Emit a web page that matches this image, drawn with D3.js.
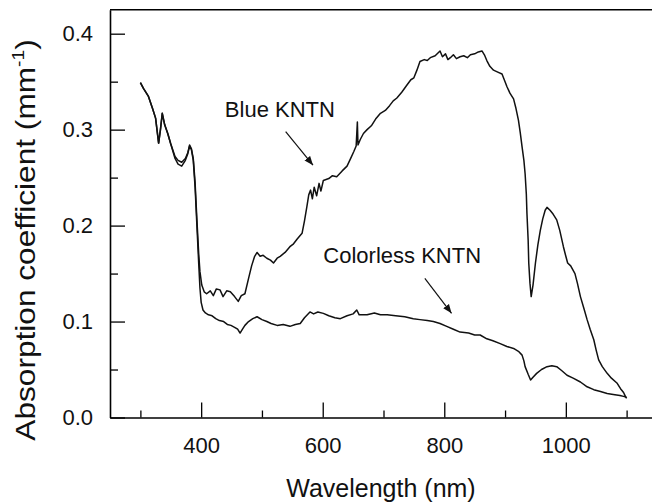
<!DOCTYPE html>
<html>
<head>
<meta charset="utf-8">
<script src="https://cdn.jsdelivr.net/npm/d3@7"></script>
<style>
  html, body { margin: 0; padding: 0; background: #fff; }
  svg { display: block; font-family: "Liberation Sans", Arial, sans-serif; }
  .tick text { font-size: 22px; fill: #111; }
</style>
</head>
<body>
<svg id="chart" width="652" height="504"></svg>
<script>
// wavelength (nm), absorption coefficient (mm^-1)
const blueKntn = [
  [300, 0.349], [305, 0.343], [313, 0.335], [320, 0.322], [325, 0.312], [330, 0.286], [333, 0.300],
  [336, 0.317], [340, 0.305], [345, 0.296], [350, 0.285], [357, 0.272], [362, 0.268], [368, 0.266],
  [374, 0.270], [378, 0.276], [381, 0.284], [384, 0.280], [387, 0.270], [390, 0.245], [393, 0.206],
  [396, 0.170], [398, 0.152], [401, 0.138], [405, 0.131], [409, 0.129], [415, 0.132], [420, 0.127],
  [425, 0.134], [431, 0.133], [436, 0.126], [442, 0.132], [448, 0.131], [455, 0.126], [461, 0.121],
  [466, 0.127], [472, 0.129], [478, 0.145], [483, 0.158], [488, 0.168], [492, 0.172], [497, 0.168],
  [502, 0.169], [508, 0.166], [514, 0.164], [519, 0.161], [525, 0.166], [530, 0.168], [538, 0.172],
  [546, 0.178], [552, 0.181], [558, 0.186], [566, 0.192], [570, 0.205], [574, 0.220], [577, 0.232],
  [580, 0.237], [583, 0.228], [586, 0.240], [590, 0.231], [594, 0.244], [597, 0.236], [601, 0.247],
  [610, 0.249], [616, 0.252], [623, 0.251], [632, 0.257], [640, 0.262], [646, 0.270], [651, 0.277],
  [655, 0.283], [657, 0.308], [658, 0.284], [662, 0.290], [667, 0.296], [673, 0.300], [680, 0.304],
  [687, 0.311], [695, 0.317], [703, 0.320], [710, 0.325], [716, 0.330], [722, 0.333], [730, 0.339],
  [738, 0.346], [745, 0.352], [750, 0.354], [755, 0.362], [760, 0.371], [767, 0.373], [772, 0.372],
  [777, 0.375], [785, 0.377], [793, 0.382], [797, 0.376], [802, 0.379], [806, 0.373], [810, 0.375],
  [815, 0.378], [820, 0.374], [826, 0.376], [832, 0.377], [838, 0.375], [843, 0.378], [850, 0.379],
  [856, 0.381], [862, 0.382], [866, 0.378], [870, 0.372], [875, 0.366], [881, 0.362], [888, 0.360],
  [895, 0.358], [900, 0.350], [903, 0.345], [908, 0.338], [914, 0.332], [918, 0.322], [922, 0.310],
  [925, 0.297], [928, 0.282], [931, 0.268], [933, 0.254], [935, 0.233], [936, 0.213], [938, 0.185],
  [939, 0.161], [941, 0.140], [943, 0.126], [946, 0.138], [950, 0.161], [954, 0.180], [958, 0.195],
  [962, 0.207], [966, 0.216], [969, 0.219], [974, 0.216], [979, 0.212], [985, 0.206], [990, 0.195],
  [996, 0.178], [1000, 0.168], [1003, 0.161], [1008, 0.158], [1015, 0.150], [1019, 0.140], [1024, 0.126],
  [1030, 0.113], [1035, 0.102], [1040, 0.092], [1046, 0.081], [1050, 0.070], [1054, 0.060], [1060, 0.053],
  [1068, 0.046], [1075, 0.041], [1084, 0.036], [1090, 0.030], [1095, 0.026], [1098, 0.022], [1100, 0.020],
];

const colorlessKntn = [
  [300, 0.349], [305, 0.343], [313, 0.335], [320, 0.322], [325, 0.312], [330, 0.286], [333, 0.300],
  [336, 0.317], [340, 0.305], [345, 0.296], [350, 0.285], [357, 0.270], [362, 0.264], [368, 0.262],
  [374, 0.268], [378, 0.275], [381, 0.283], [384, 0.279], [387, 0.268], [390, 0.240], [393, 0.200],
  [396, 0.160], [398, 0.135], [400, 0.120], [403, 0.112], [407, 0.109], [412, 0.107], [418, 0.106],
  [424, 0.103], [430, 0.101], [437, 0.100], [443, 0.097], [449, 0.096], [455, 0.094], [460, 0.092],
  [464, 0.088], [468, 0.092], [472, 0.096], [478, 0.100], [485, 0.103], [492, 0.105], [500, 0.102],
  [508, 0.100], [515, 0.098], [525, 0.096], [535, 0.097], [546, 0.095], [555, 0.097], [563, 0.098],
  [570, 0.104], [579, 0.110], [585, 0.108], [592, 0.110], [601, 0.1085], [610, 0.106], [620, 0.104],
  [629, 0.103], [640, 0.106], [650, 0.108], [656, 0.112], [660, 0.107], [673, 0.107], [685, 0.109],
  [695, 0.107], [706, 0.107], [720, 0.106], [735, 0.105], [749, 0.103], [760, 0.102], [772, 0.101],
  [782, 0.100], [793, 0.098], [804, 0.095], [815, 0.092], [826, 0.089], [840, 0.088], [850, 0.086],
  [859, 0.086], [870, 0.082], [880, 0.080], [892, 0.077], [903, 0.074], [914, 0.072], [922, 0.069],
  [928, 0.065], [931, 0.059], [933, 0.053], [938, 0.045], [942, 0.039], [946, 0.042], [952, 0.046],
  [960, 0.050], [969, 0.053], [977, 0.054], [985, 0.053], [993, 0.049], [1002, 0.044], [1012, 0.041],
  [1024, 0.037], [1035, 0.032], [1046, 0.029], [1057, 0.027], [1068, 0.025], [1078, 0.024], [1089, 0.023],
  [1095, 0.022], [1100, 0.021],
];

const wavelengthTicks = [400, 600, 800, 1000];
const wavelengthMinorTicks = [300, 500, 700, 900, 1100];
const coeffTicks = [0, 0.1, 0.2, 0.3, 0.4];
const coeffMinorTicks = [0.05, 0.15, 0.25, 0.35];

// annotation: label anchor and arrow (from -> to), in data units
const labels = [
  { text: "Blue KNTN", at: [439, 0.3135], from: [539, 0.298], to: [584, 0.263] },
  { text: "Colorless KNTN", at: [601, 0.1607], from: [768, 0.145], to: [812, 0.1086] },
];

const svg = d3.select("#chart");
const plotLeft = 110, plotRight = 657, plotTop = 9.7, plotBottom = 417.5;

const x = d3.scaleLinear().domain([250, 1150]).range([plotLeft, plotRight]);
const y = d3.scaleLinear().domain([0, 0.425]).range([plotBottom, plotTop]);

// frame: left, bottom, top (right side cropped)
svg.append("line").attr("x1", plotLeft).attr("x2", plotRight).attr("y1", plotTop).attr("y2", plotTop)
  .attr("stroke", "#000").attr("stroke-width", 1.6);

svg.append("g").attr("transform", `translate(0,${plotBottom})`)
  .call(d3.axisBottom(x).tickValues(wavelengthTicks).tickSize(-15).tickSizeOuter(0).tickPadding(19.5).tickFormat(d3.format("d")));
svg.append("g").attr("transform", `translate(0,${plotBottom})`)
  .call(d3.axisBottom(x).tickValues(wavelengthMinorTicks).tickSize(-7).tickSizeOuter(0).tickFormat(() => ""))
  .call((g) => g.select(".domain").remove());

svg.append("g").attr("transform", `translate(${plotLeft},0)`)
  .call(d3.axisLeft(y).tickValues(coeffTicks).tickSize(-15).tickSizeOuter(0).tickPadding(17).tickFormat(d3.format(".1f")));
svg.append("g").attr("transform", `translate(${plotLeft},0)`)
  .call(d3.axisLeft(y).tickValues(coeffMinorTicks).tickSize(-8).tickSizeOuter(0).tickFormat(() => ""))
  .call((g) => g.select(".domain").remove());

svg.selectAll(".domain").attr("stroke", "#000").attr("stroke-width", 1.6);
svg.selectAll(".tick line").attr("stroke", "#000").attr("stroke-width", 1.3);
svg.selectAll(".tick text").attr("font-size", null).attr("font-family", null);

// curves
const line = d3.line().x((d) => x(d[0])).y((d) => y(d[1]));
[blueKntn, colorlessKntn].forEach((series) => {
  svg.append("path").datum(series).attr("d", line)
    .attr("fill", "none").attr("stroke", "#111").attr("stroke-width", 1.5).attr("stroke-linejoin", "round");
});

// arrows + labels
svg.append("defs").append("marker")
  .attr("id", "arrow").attr("viewBox", "0 0 10 10").attr("refX", 10).attr("refY", 5)
  .attr("markerWidth", 9).attr("markerHeight", 9).attr("markerUnits", "userSpaceOnUse").attr("orient", "auto")
  .append("path").attr("d", "M0,1 L10,5 L0,9 Z").attr("fill", "#111");

labels.forEach((l) => {
  svg.append("text").attr("x", x(l.at[0])).attr("y", y(l.at[1]))
    .attr("font-size", 22).attr("fill", "#111").text(l.text);
  svg.append("line")
    .attr("x1", x(l.from[0])).attr("y1", y(l.from[1]))
    .attr("x2", x(l.to[0])).attr("y2", y(l.to[1]))
    .attr("stroke", "#111").attr("stroke-width", 1.2).attr("marker-end", "url(#arrow)");
});

// axis titles
svg.append("text").attr("x", 381).attr("y", 496.5).attr("text-anchor", "middle")
  .attr("font-size", 25).attr("fill", "#111").text("Wavelength (nm)");

const yTitle = svg.append("text")
  .attr("transform", `translate(35,240) rotate(-90) scale(1.13,1)`)
  .attr("text-anchor", "middle").attr("font-size", 28).attr("fill", "#111");
yTitle.append("tspan").text("Absorption coefficient (mm");
yTitle.append("tspan").attr("font-size", 17).attr("dy", -11).text("-1");
yTitle.append("tspan").attr("dy", 11).text(")");
</script>
</body>
</html>
